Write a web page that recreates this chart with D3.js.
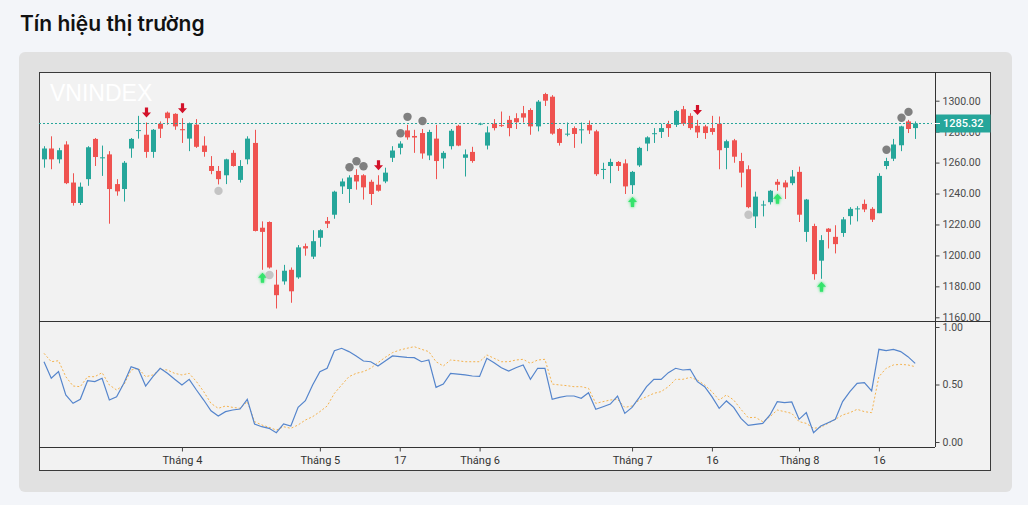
<!DOCTYPE html>
<html>
<head>
<meta charset="utf-8">
<script src="https://cdn.jsdelivr.net/npm/d3@7"></script>
<style>
  body { margin: 0; background: #f3f5f9; }
  svg { display: block; }
</style>
</head>
<body>
<svg id="chart" width="1028" height="505"></svg>
<script>
// time axis labels, placed on the bar index they belong to
const tickIndex = [19, 38, 49, 60, 81, 92, 104, 115];
const tickLabel = ["Tháng 4", "Tháng 5", "17", "Tháng 6", "Tháng 7", "16", "Tháng 8", "16"];

// VNINDEX daily candles
const opens = [
  1262.1, 1269.1, 1262.1, 1271.7, 1247.1, 1233.9, 1249.3, 1275.3, 1262.8, 1265.3,
  1246.1, 1242.9, 1269.1, 1280.5, 1278.0, 1266.9, 1285.1, 1292.3, 1291.5, 1281.6,
  1275.5, 1284.5, 1271.0, 1257.8, 1254.6, 1251.8, 1266.3, 1248.8, 1262.1, 1272.7,
  1217.9, 1221.6, 1181.1, 1183.2, 1190.7, 1185.8, 1206.0, 1199.2, 1211.4, 1222.2,
  1226.3, 1244.6, 1242.9, 1252.0, 1251.8, 1247.6, 1245.7, 1247.8, 1263.1, 1269.5,
  1280.8, 1277.2, 1279.1, 1264.6, 1275.5, 1262.7, 1270.6, 1283.8, 1263.1, 1266.9,
  1284.6, 1271.0, 1285.1, 1284.2, 1287.6, 1288.7, 1291.9, 1294.0, 1283.4, 1304.3,
  1302.6, 1281.7, 1278.2, 1282.3, 1280.9, 1284.4, 1280.2, 1255.4, 1257.8, 1260.4,
  1259.5, 1245.4, 1258.2, 1272.3, 1278.4, 1279.8, 1284.9, 1284.4, 1294.5, 1290.2,
  1283.8, 1283.4, 1282.3, 1285.1, 1269.5, 1274.4, 1261.0, 1255.7, 1225.2, 1232.4,
  1234.4, 1247.6, 1247.1, 1246.7, 1254.0, 1215.2, 1219.0, 1196.6, 1217.3, 1212.0,
  1214.5, 1225.4, 1229.8, 1233.3, 1230.1, 1227.3, 1257.8, 1262.5, 1271.2, 1286.6,
  1282.3
];
const highs = [
  1270.6, 1277.0, 1269.5, 1273.8, 1253.1, 1247.1, 1270.6, 1275.9, 1271.0, 1267.4,
  1249.3, 1261.0, 1275.9, 1290.2, 1285.9, 1281.7, 1286.6, 1293.0, 1291.9, 1288.7,
  1285.9, 1288.1, 1277.0, 1264.2, 1257.8, 1262.5, 1268.0, 1261.6, 1277.0, 1281.2,
  1222.0, 1222.0, 1190.7, 1193.9, 1192.2, 1206.7, 1207.7, 1216.3, 1216.9, 1224.8,
  1241.8, 1249.7, 1251.8, 1255.7, 1252.5, 1248.9, 1251.8, 1256.7, 1270.6, 1273.8,
  1284.4, 1281.2, 1281.7, 1281.2, 1284.4, 1267.4, 1281.7, 1284.4, 1268.5, 1270.2,
  1285.8, 1283.4, 1288.1, 1293.0, 1290.2, 1291.9, 1296.6, 1295.1, 1300.4, 1305.1,
  1303.6, 1282.3, 1285.9, 1283.4, 1285.9, 1287.2, 1281.2, 1259.9, 1262.5, 1261.0,
  1262.1, 1254.6, 1270.2, 1277.0, 1282.3, 1285.1, 1287.0, 1294.0, 1296.6, 1291.9,
  1287.6, 1284.4, 1290.2, 1289.8, 1274.8, 1275.3, 1266.3, 1258.2, 1241.2, 1235.4,
  1242.3, 1249.3, 1248.6, 1255.2, 1257.4, 1236.5, 1220.5, 1213.1, 1217.7, 1219.5,
  1224.8, 1231.2, 1231.8, 1236.1, 1231.2, 1253.1, 1263.1, 1275.3, 1283.8, 1287.6,
  1286.6
];
const lows = [
  1256.7, 1255.7, 1259.5, 1246.1, 1232.2, 1232.6, 1245.0, 1257.8, 1251.4, 1220.5,
  1238.6, 1234.8, 1263.1, 1275.5, 1263.1, 1263.1, 1275.9, 1284.5, 1281.2, 1272.7,
  1267.4, 1269.5, 1263.8, 1252.5, 1245.9, 1246.1, 1257.4, 1247.1, 1258.9, 1215.5,
  1190.7, 1191.5, 1165.7, 1181.1, 1169.4, 1184.9, 1199.8, 1197.7, 1205.6, 1217.7,
  1223.7, 1239.7, 1233.9, 1242.5, 1236.1, 1232.6, 1241.2, 1246.7, 1260.4, 1265.3,
  1274.8, 1266.3, 1262.5, 1261.6, 1249.3, 1256.1, 1268.5, 1270.6, 1251.0, 1259.9,
  1284.2, 1268.5, 1280.8, 1283.0, 1277.0, 1281.7, 1285.9, 1278.0, 1280.2, 1296.6,
  1278.0, 1271.0, 1277.0, 1269.5, 1272.3, 1278.5, 1251.4, 1249.3, 1246.7, 1254.6,
  1239.7, 1239.7, 1257.2, 1267.4, 1272.7, 1275.9, 1276.6, 1283.0, 1283.8, 1281.2,
  1275.9, 1275.3, 1278.0, 1255.7, 1255.7, 1259.9, 1244.0, 1230.5, 1217.7, 1225.2,
  1232.9, 1241.8, 1236.5, 1245.4, 1221.6, 1208.8, 1184.3, 1184.9, 1204.5, 1201.3,
  1212.0, 1219.9, 1222.0, 1228.0, 1221.6, 1227.3, 1255.7, 1261.0, 1267.4, 1279.1,
  1275.3
];
const closes = [
  1269.1, 1262.1, 1268.0, 1246.7, 1233.9, 1244.4, 1269.9, 1263.6, 1263.4, 1242.9,
  1241.4, 1259.9, 1275.3, 1281.0, 1266.9, 1281.2, 1281.9, 1288.7, 1283.4, 1280.9,
  1285.5, 1270.2, 1266.9, 1254.6, 1249.3, 1262.1, 1257.8, 1257.8, 1275.5, 1215.8,
  1215.2, 1192.2, 1174.3, 1190.1, 1176.8, 1205.2, 1204.5, 1209.2, 1216.3, 1220.5,
  1241.2, 1247.8, 1250.4, 1247.8, 1244.0, 1239.7, 1241.8, 1253.5, 1267.8, 1272.3,
  1276.3, 1276.2, 1265.9, 1279.8, 1261.0, 1266.3, 1280.6, 1271.0, 1265.3, 1261.0,
  1285.2, 1279.5, 1282.3, 1283.6, 1282.3, 1286.1, 1289.1, 1283.4, 1299.4, 1300.0,
  1278.7, 1272.7, 1278.7, 1278.5, 1281.5, 1280.8, 1252.5, 1255.9, 1260.4, 1257.8,
  1244.6, 1254.0, 1269.5, 1276.3, 1279.0, 1282.3, 1282.3, 1293.4, 1285.1, 1282.3,
  1279.5, 1279.1, 1279.8, 1268.0, 1273.8, 1263.8, 1253.5, 1231.2, 1238.0, 1232.9,
  1241.8, 1245.7, 1244.0, 1251.0, 1226.3, 1236.1, 1187.9, 1209.9, 1215.2, 1207.3,
  1223.3, 1230.1, 1230.4, 1229.7, 1223.1, 1251.4, 1261.0, 1271.7, 1283.4, 1281.7,
  1285.32
];

// oscillator pane: fast line (blue) and its signal (orange, dotted)
const fastLine = [
  0.698, 0.554, 0.612, 0.409, 0.336, 0.371, 0.533, 0.525, 0.554, 0.365,
  0.394, 0.510, 0.655, 0.632, 0.487, 0.568, 0.641, 0.597, 0.545, 0.496,
  0.545, 0.452, 0.365, 0.272, 0.226, 0.264, 0.278, 0.287, 0.371, 0.157,
  0.133, 0.119, 0.081, 0.157, 0.139, 0.301, 0.359, 0.496, 0.612, 0.641,
  0.794, 0.815, 0.786, 0.748, 0.704, 0.698, 0.661, 0.704, 0.748, 0.742,
  0.736, 0.733, 0.698, 0.713, 0.475, 0.504, 0.597, 0.591, 0.583, 0.574,
  0.570, 0.728, 0.690, 0.646, 0.617, 0.646, 0.670, 0.545, 0.641, 0.641,
  0.371, 0.388, 0.400, 0.400, 0.380, 0.429, 0.284, 0.307, 0.330, 0.400,
  0.249, 0.301, 0.388, 0.481, 0.545, 0.545, 0.603, 0.641, 0.626, 0.632,
  0.525, 0.481, 0.394, 0.293, 0.357, 0.301, 0.206, 0.145, 0.154, 0.162,
  0.235, 0.351, 0.342, 0.348, 0.197, 0.255, 0.081, 0.139, 0.168, 0.197,
  0.351, 0.438, 0.510, 0.516, 0.444, 0.806, 0.794, 0.806, 0.786, 0.742,
  0.684
];
const signalLine = [
  0.771, 0.698, 0.707, 0.568, 0.487, 0.481, 0.568, 0.568, 0.603, 0.496,
  0.452, 0.496, 0.626, 0.641, 0.568, 0.583, 0.632, 0.626, 0.597, 0.583,
  0.597, 0.525, 0.438, 0.336, 0.293, 0.313, 0.301, 0.293, 0.351, 0.177,
  0.148, 0.128, 0.104, 0.133, 0.119, 0.148, 0.191, 0.220, 0.264, 0.313,
  0.423, 0.496, 0.568, 0.597, 0.612, 0.641, 0.690, 0.736, 0.777, 0.800,
  0.815, 0.829, 0.806, 0.786, 0.698, 0.661, 0.713, 0.707, 0.698, 0.698,
  0.698, 0.757, 0.728, 0.698, 0.698, 0.713, 0.719, 0.684, 0.713, 0.719,
  0.504, 0.496, 0.490, 0.481, 0.481, 0.467, 0.336, 0.351, 0.365, 0.371,
  0.301, 0.313, 0.365, 0.394, 0.423, 0.438, 0.481, 0.545, 0.545, 0.562,
  0.539, 0.496, 0.438, 0.365, 0.409, 0.365, 0.284, 0.212, 0.214, 0.177,
  0.220, 0.278, 0.264, 0.249, 0.177, 0.162, 0.119, 0.128, 0.162, 0.197,
  0.235, 0.255, 0.284, 0.264, 0.255, 0.568, 0.641, 0.670, 0.675, 0.670,
  0.655
];

// signal markers (bar indexes)
const sellArrows = [14, 19, 46, 90];
const buyArrows = [30, 81, 101, 107];
const topDots = [42, 43, 44, 49, 50, 52, 116, 118, 119];
const bottomDots = [24, 31, 97];

const priceTicks = [1160, 1180, 1200, 1220, 1240, 1260, 1280, 1300];
const oscTicks = [0, 0.5, 1];

const upColor = "#26a69a";
const downColor = "#ef5350";
const axisFont = "Roboto, 'Liberation Sans', sans-serif";

let bars = opens.map(function(o, i) {
    return {i: i, o: o, h: highs[i], l: lows[i], c: closes[i]};
});

let svg = d3.select("#chart");

// layout of the chart box
let boxLeft = 39, boxRight = 991, boxTop = 72, boxBottom = 471;
let paneRight = 935, split = 321.5, timeY = 447;

let x = d3.scaleLinear().domain([0, bars.length - 1]).range([44, 915.2]);
let y = d3.scaleLinear().domain([1160, 1300]).range([317.3, 100.7]);
let yOsc = d3.scaleLinear().domain([0, 1]).range([442, 327]);

let defs = svg.append("defs");
defs.append("clipPath").attr("id", "mainClip")
    .append("rect").attr("x", boxLeft).attr("y", boxTop).attr("width", paneRight - boxLeft).attr("height", split - boxTop);
defs.append("clipPath").attr("id", "oscClip")
    .append("rect").attr("x", boxLeft).attr("y", split).attr("width", paneRight - boxLeft).attr("height", timeY - split);
let glow = defs.append("filter").attr("id", "glow")
    .attr("x", "-100%").attr("y", "-100%").attr("width", "300%").attr("height", "300%");
glow.append("feGaussianBlur").attr("stdDeviation", 1.6).attr("result", "blur");
let merge = glow.append("feMerge");
merge.append("feMergeNode").attr("in", "blur");
merge.append("feMergeNode").attr("in", "SourceGraphic");

// title
svg.append("text")
    .attr("x", 20).attr("y", 31)
    .attr("font-family", "Inter, Roboto, sans-serif")
    .attr("font-size", 21).attr("font-weight", 600)
    .attr("fill", "#111")
    .text("Tín hiệu thị trường");

// grey card and chart box
svg.append("rect")
    .attr("x", 19).attr("y", 52).attr("width", 993).attr("height", 440)
    .attr("rx", 6).attr("fill", "#e1e1e1");
svg.append("rect")
    .attr("x", boxLeft + 0.5).attr("y", boxTop + 0.5)
    .attr("width", boxRight - boxLeft - 1).attr("height", boxBottom - boxTop - 1)
    .attr("fill", "#f2f2f2").attr("stroke", "#3a3a3a");

// watermark
svg.append("text")
    .attr("x", 50).attr("y", 101)
    .attr("font-family", "'Liberation Sans', Arial, sans-serif")
    .attr("font-size", 23)
    .attr("fill", "#ffffff")
    .text("VNINDEX");

// candles
let main = svg.append("g").attr("clip-path", "url(#mainClip)");
let candle = main.selectAll(".candle")
    .data(bars)
    .enter()
    .append("g")
    .attr("fill", function(d) { return d.c >= d.o ? upColor : downColor; });

candle.append("rect")
    .attr("x", function(d) { return Math.round(x(d.i)); })
    .attr("y", function(d) { return y(d.h); })
    .attr("width", 1)
    .attr("height", function(d) { return Math.max(1, y(d.l) - y(d.h)); });

candle.append("rect")
    .attr("x", function(d) { return Math.round(x(d.i)) - 2; })
    .attr("y", function(d) { return y(Math.max(d.o, d.c)); })
    .attr("width", 5)
    .attr("height", function(d) { return Math.max(1, Math.abs(y(d.o) - y(d.c))); });

// last price line
let last = bars[bars.length - 1];
let ly = Math.round(y(last.c)) + 0.5;
main.append("line")
    .attr("x1", boxLeft).attr("x2", paneRight)
    .attr("y1", ly).attr("y2", ly)
    .attr("stroke", upColor).attr("stroke-dasharray", "2,2");

// markers
function arrowPath(cx, cy, dir) {
    // dir = 1 points down, -1 points up
    let p = [[-1.6, -5], [1.6, -5], [1.6, 0], [4.5, 0], [0, 5], [-4.5, 0], [-1.6, 0]];
    return "M" + p.map(function(q) { return (cx + q[0]) + "," + (cy + q[1] * dir); }).join("L") + "Z";
}

main.selectAll(".sell")
    .data(sellArrows)
    .enter()
    .append("path")
    .attr("d", function(i) { return arrowPath(Math.round(x(i)) + 0.5, y(highs[i]) - 10, 1); })
    .attr("fill", "#d3122a");

main.selectAll(".buy")
    .data(buyArrows)
    .enter()
    .append("path")
    .attr("d", function(i) { return arrowPath(Math.round(x(i)) + 0.5, y(lows[i]) + 8, -1); })
    .attr("fill", "#35e36c")
    .attr("filter", "url(#glow)");

main.selectAll(".topdot")
    .data(topDots)
    .enter()
    .append("circle")
    .attr("cx", function(i) { return Math.round(x(i)) + 0.5; })
    .attr("cy", function(i) { return y(highs[i]) - 8; })
    .attr("r", 4.2)
    .attr("fill", "#808080");

main.selectAll(".bottomdot")
    .data(bottomDots)
    .enter()
    .append("circle")
    .attr("cx", function(i) { return Math.round(x(i)) + 0.5; })
    .attr("cy", function(i) { return y(lows[i]) + 6.5; })
    .attr("r", 4.2)
    .attr("fill", "#c4c4c4");

// oscillator lines
let osc = svg.append("g").attr("clip-path", "url(#oscClip)");
osc.append("path")
    .datum(signalLine)
    .attr("d", d3.line().x(function(d, i) { return x(i); }).y(function(d) { return yOsc(d); }))
    .attr("fill", "none").attr("stroke", "#f4b24e").attr("stroke-width", 1)
    .attr("stroke-dasharray", "2,2");
osc.append("path")
    .datum(fastLine)
    .attr("d", d3.line().x(function(d, i) { return x(i); }).y(function(d) { return yOsc(d); }))
    .attr("fill", "none").attr("stroke", "#5585cc").attr("stroke-width", 1.2);

// pane separator and axis lines
svg.append("line")
    .attr("x1", boxLeft).attr("x2", boxRight).attr("y1", split).attr("y2", split)
    .attr("stroke", "#333");
svg.append("line")
    .attr("x1", paneRight + 0.5).attr("x2", paneRight + 0.5).attr("y1", boxTop).attr("y2", timeY)
    .attr("stroke", "#333");
svg.append("line")
    .attr("x1", boxLeft).attr("x2", paneRight).attr("y1", timeY + 0.5).attr("y2", timeY + 0.5)
    .attr("stroke", "#333");

// price axis
let priceAxis = svg.append("g")
    .attr("transform", "translate(" + (paneRight + 0.5) + ",0)")
    .call(d3.axisRight(y).tickValues(priceTicks).tickFormat(d3.format(".2f")).tickSize(4).tickPadding(3));
let oscAxis = svg.append("g")
    .attr("transform", "translate(" + (paneRight + 0.5) + ",0)")
    .call(d3.axisRight(yOsc).tickValues(oscTicks).tickFormat(d3.format(".2f")).tickSize(4).tickPadding(3));
let timeAxis = svg.append("g")
    .attr("transform", "translate(0," + (timeY + 0.5) + ")")
    .call(d3.axisBottom(x).tickValues(tickIndex).tickFormat(function(d, i) { return tickLabel[i]; }).tickSize(4).tickPadding(5));

[priceAxis, oscAxis, timeAxis].forEach(function(g) {
    g.select(".domain").remove();
    g.selectAll("line").attr("stroke", "#444");
    g.selectAll("text")
        .attr("font-family", axisFont)
        .attr("font-size", 10.5)
        .attr("fill", "#4a4a4a");
});
timeAxis.selectAll("text").attr("font-size", 11).attr("fill", "#333");

// last price label
svg.append("rect")
    .attr("x", paneRight + 1).attr("y", ly - 9)
    .attr("width", boxRight - paneRight - 1.5).attr("height", 18)
    .attr("fill", upColor);
svg.append("line")
    .attr("x1", paneRight - 3).attr("x2", paneRight + 5).attr("y1", ly).attr("y2", ly)
    .attr("stroke", "#ffffff");
svg.append("text")
    .attr("x", paneRight + 8).attr("y", ly)
    .attr("dy", "0.35em")
    .attr("font-family", axisFont).attr("font-size", 11).attr("font-weight", 500)
    .attr("fill", "#ffffff")
    .text(d3.format(".2f")(last.c));
</script>
</body>
</html>
